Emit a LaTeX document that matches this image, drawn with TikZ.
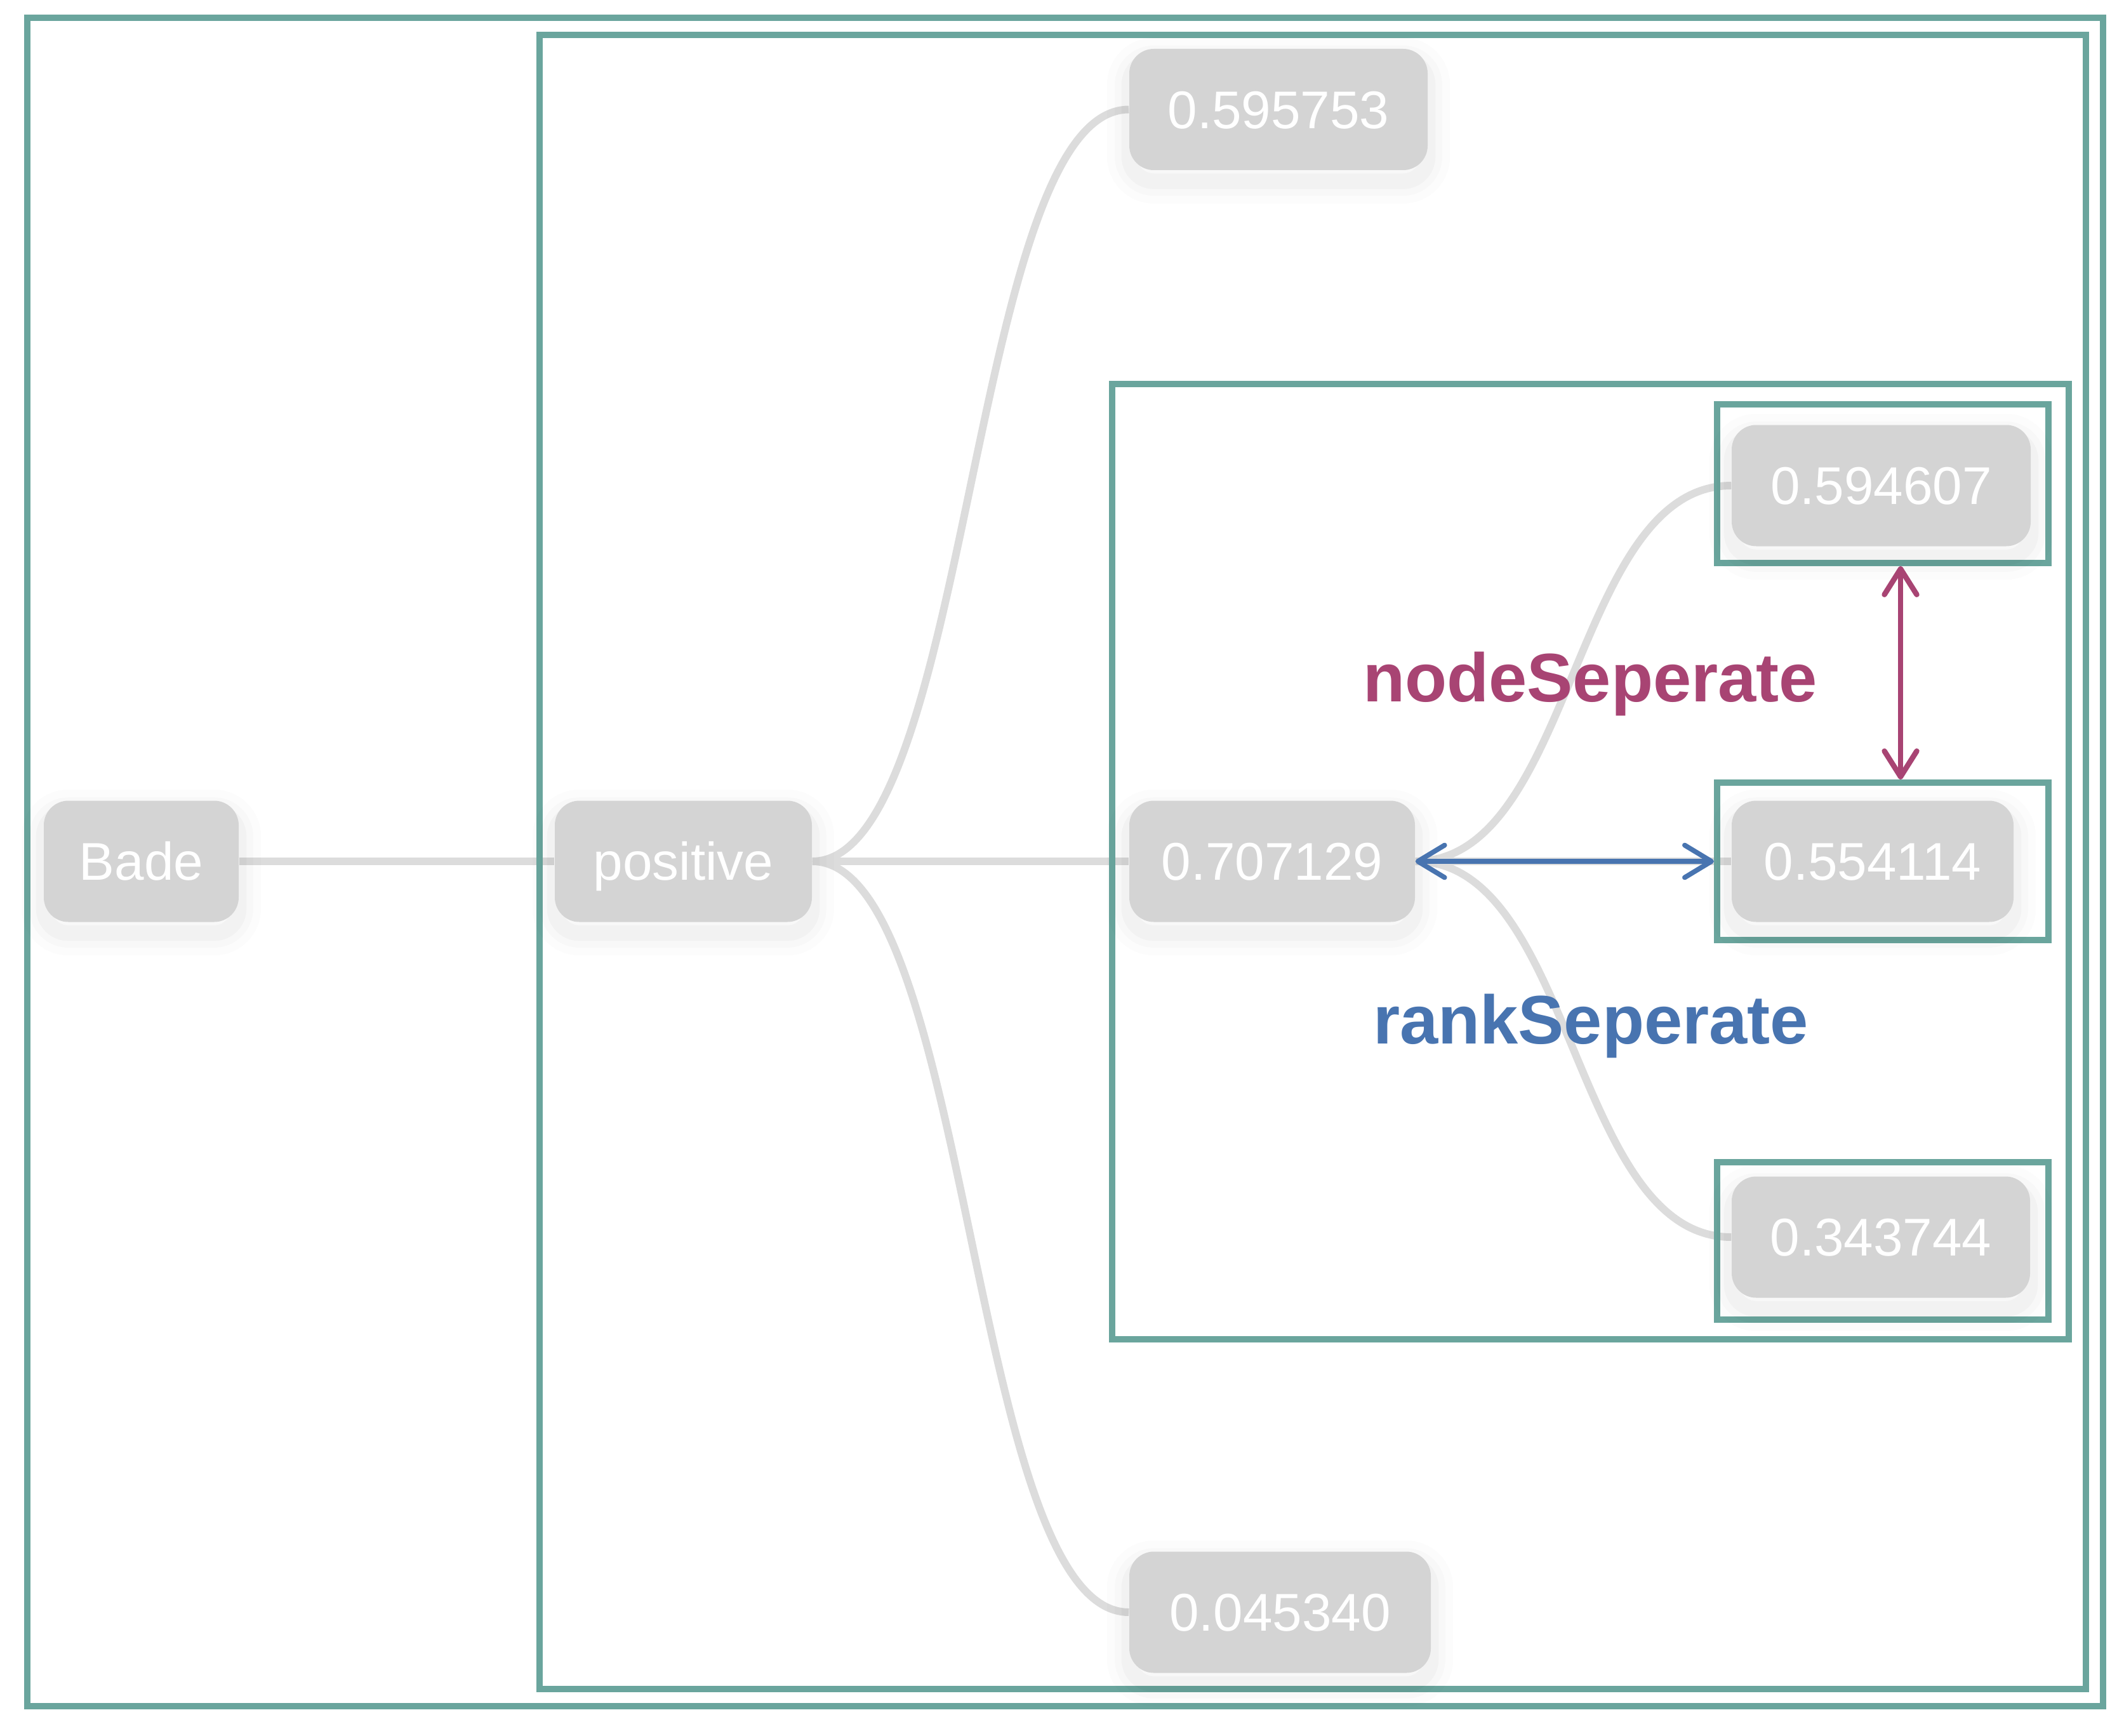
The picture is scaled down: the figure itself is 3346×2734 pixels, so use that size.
\documentclass[tikz,border=0pt]{standalone}
\usepackage{fontspec}
\setmainfont{Liberation Sans}
\usetikzlibrary{arrows.meta,calc}
\definecolor{frameteal}{RGB}{106,165,157}
\definecolor{nodegray}{RGB}{212,212,212}
\definecolor{edgegray}{RGB}{220,220,220}
\definecolor{labmag}{RGB}{168,68,115}
\definecolor{labblue}{RGB}{72,116,176}
\pgfdeclarelayer{edgelayer}
\pgfdeclarelayer{framelayer}
\pgfsetlayers{edgelayer,framelayer,main}
\begin{document}
\begin{tikzpicture}[x=0.1mm,y=-0.1mm,
  frame/.style={draw=frameteal,line width=2.9pt},
  framebox/.style={draw=frameteal,line width=2.9pt,inner sep=0pt,minimum width=52.2mm},
  softshadow/.style={
    preaction={draw=black,draw opacity=0.012,line width=20pt,transform canvas={yshift=-5pt}},
    preaction={draw=black,draw opacity=0.016,line width=13pt,transform canvas={yshift=-5pt}},
    preaction={draw=black,draw opacity=0.022,line width=7pt,transform canvas={yshift=-5pt}}},
  tnode/.style={fill=nodegray,rounded corners=11pt,text=white,
    font=\fontsize{23.8}{28}\selectfont,inner sep=0pt,minimum height=19.1mm,
    text height=17pt,text depth=0pt,softshadow},
  edge/.style={draw=edgegray,line width=3.4pt},
  sepblue/.style={draw=labblue,line width=2.2pt,{Straight Barb[length=12pt,width=14.5pt,round]}-{Straight Barb[length=12pt,width=14.5pt,round]}},
  sepmag/.style={draw=labmag,line width=2.4pt,{Straight Barb[length=11.5pt,width=14.5pt,round]}-{Straight Barb[length=11.5pt,width=14.5pt,round]}},
  lab/.style={font=\bfseries\fontsize{30.8}{36}\selectfont,anchor=base,inner sep=0pt}
]
\begin{pgfonlayer}{edgelayer}
\useasboundingbox (0,0) rectangle (3346,2734);
\fill[white] (0,0) rectangle (3346,2734);
\end{pgfonlayer}

% nodes
\node[tnode,minimum width=30.7mm] (bade) at (222.5,1357) {Bade};
\node[tnode,minimum width=40.5mm] (pos) at (1076.5,1357) {positive};
\node[tnode,minimum width=47mm] (n1) at (2014,172.5) {0.595753};
\node[tnode,minimum width=45mm] (n2) at (2004,1357) {0.707129};
\node[tnode,minimum width=47.5mm] (n3) at (2016.5,2540) {0.045340};
\node[tnode,minimum width=47.1mm] (m1) at (2963.5,765) {0.594607};
\node[tnode,minimum width=44.4mm] (m2) at (2950,1357) {0.554114};
\node[tnode,minimum width=47mm] (m3) at (2963,1949) {0.343744};

% edges
\begin{pgfonlayer}{edgelayer}
\draw[edge] (bade.east) -- (pos.west);
\draw[edge] (pos.east) .. controls +(250,0) and +(-250,0) .. (n1.west);
\draw[edge] (pos.east) -- (n2.west);
\draw[edge] (pos.east) .. controls +(250,0) and +(-250,0) .. (n3.west);
\draw[edge] (n2.east) .. controls +(250,0) and +(-250,0) .. (m1.west);
\draw[edge] (n2.east) -- (m2.west);
\draw[edge] (n2.east) .. controls +(250,0) and +(-250,0) .. (m3.west);
\end{pgfonlayer}

% frames
\begin{pgfonlayer}{framelayer}
\draw[frame] (43,28) rectangle (3313,2688);
\draw[frame] (850,55) rectangle (3286,2661);
\draw[frame] (1752,605) rectangle (3259,2110);
\node[framebox,minimum height=25mm] (b1) at (2966,762) {};
\node[framebox,minimum height=24.8mm] (b2) at (2966,1357) {};
\node[framebox,minimum height=24.8mm] (b3) at (2966,1955) {};
\end{pgfonlayer}

% separation arrows
\coordinate (mx) at (2994,0);
\draw[sepblue] (n2.east) -- (b2.west);
\draw[sepmag] (b1.south -| mx) -- (b2.north -| mx);

% labels
\node[lab,text=labmag] (ns) at (2505,1105) {nodeSeperate};
\node[lab,text=labblue] (rs) at (2506,1644) {rankSeperate};
\end{tikzpicture}
\end{document}
